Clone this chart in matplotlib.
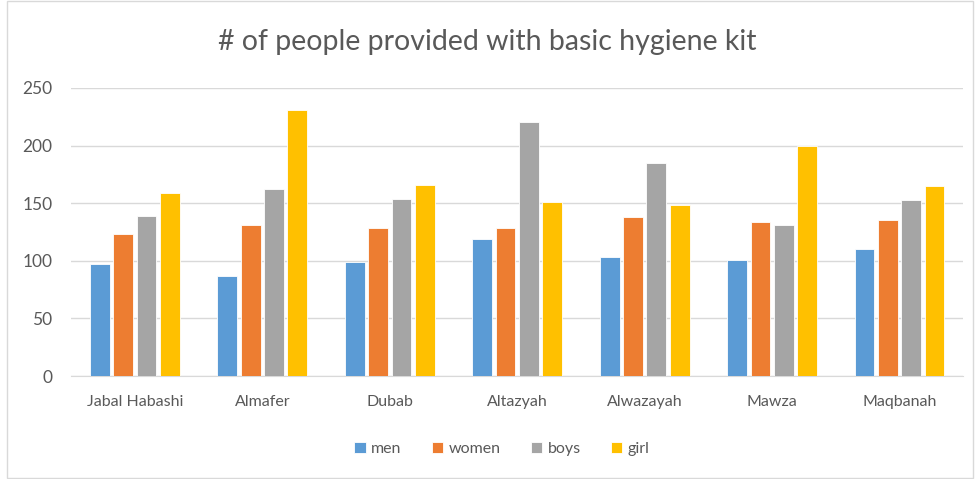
import numpy as np
import matplotlib
matplotlib.use("Agg")
from matplotlib import pyplot as plt
from matplotlib.patches import Rectangle

districts = ["Jabal Habashi", "Almafer", "Dubab", "Altazyah", "Alwazayah", "Mawza", "Maqbanah"]
men = [97, 87, 99, 119, 103, 101, 110]
women = [123, 131, 128, 128, 138, 134, 135]
boys = [139, 162, 154, 220, 185, 131, 153]
girl = [159, 231, 166, 151, 148, 200, 165]

series_names = ["men", "women", "boys", "girl"]
colors = ["#5B9BD5", "#ED7D31", "#A5A5A5", "#FFC000"]
text_color = "#595959"

plt.rcParams["font.family"] = ["Lato", "DejaVu Sans"]

fig = plt.figure(figsize=(9.75, 4.79), dpi=100)
ax = fig.add_axes([0.073, 0.215, 0.915, 0.6015])

x = np.arange(len(districts))
step = 0.183
width = 0.155
for i, (name, vals) in enumerate(zip(series_names, [men, women, boys, girl])):
    offs = (i - 1.5) * step
    ax.bar(x + offs, vals, width, color=colors[i], label=name, zorder=3,
           edgecolor="white", linewidth=0.6)

ax.set_xlim(-0.5, len(districts) - 0.5)
ax.set_ylim(0, 250)
ax.set_yticks(range(0, 251, 50))
ax.yaxis.grid(True, color="#D9D9D9", linewidth=1, zorder=0)
for s in ["top", "right", "left"]:
    ax.spines[s].set_visible(False)
ax.spines["bottom"].set_color("#D9D9D9")
ax.tick_params(axis="both", length=0, colors=text_color)
ax.tick_params(axis="x", pad=14, labelsize=11.5)
ax.tick_params(axis="y", pad=13.5, labelsize=12.5)
ax.set_xticks(x)
ax.set_xticklabels(districts)

fig.suptitle("# of people provided with basic hygiene kit", y=0.94, fontsize=20.5, color=text_color)

leg = fig.legend(loc="center", bbox_to_anchor=(0.515, 0.062), ncol=4, frameon=False,
                 fontsize=11.5, handlelength=0.7, handleheight=0.7, handletextpad=0.35,
                 columnspacing=1.9)
for t in leg.get_texts():
    t.set_color(text_color)

fig.patches.append(Rectangle((0.007, 0.002), 0.991, 0.995, transform=fig.transFigure,
                             fill=False, edgecolor="#D9D9D9", linewidth=1))

fig.savefig("out.png", dpi=100)
